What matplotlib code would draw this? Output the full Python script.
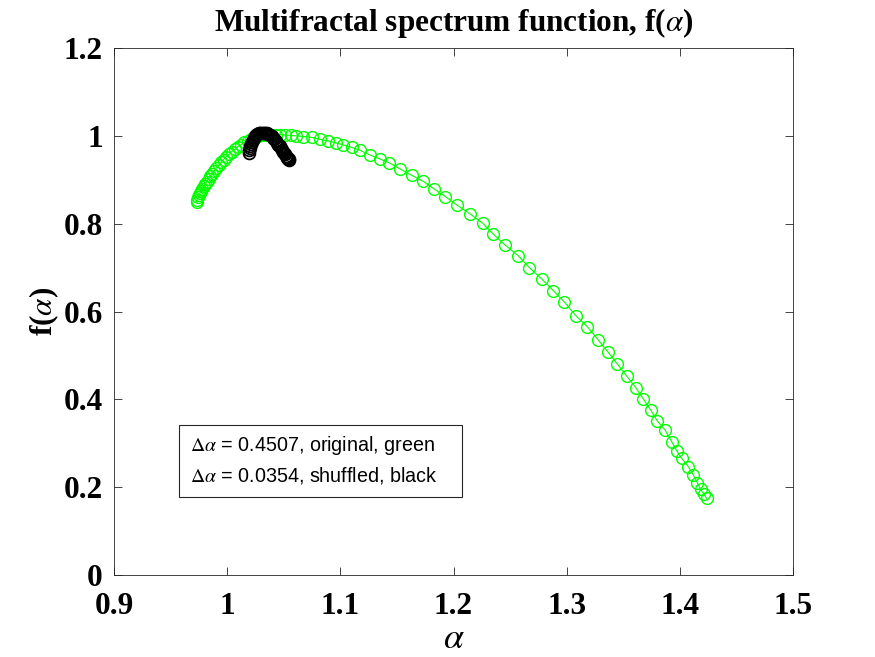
import matplotlib
matplotlib.use("Agg")
import matplotlib.pyplot as plt
from matplotlib.patches import Rectangle

# spectrum of the original series (green)
alpha_orig = [
    0.9730, 0.9736, 0.9743, 0.9751, 0.9760, 0.9770, 0.9781, 0.9793, 0.9806, 0.9820,
    0.9835, 0.9851, 0.9868, 0.9886, 0.9905, 0.9925, 0.9946, 0.9968, 0.9991, 1.0015,
    1.0040, 1.0066, 1.0093, 1.0121, 1.0150, 1.0180, 1.0211, 1.0243, 1.0276, 1.0310,
    1.0347, 1.0386, 1.0427, 1.0470, 1.0514, 1.0560, 1.0606, 1.0673, 1.0747, 1.0820,
    1.0894, 1.0959, 1.1026, 1.1100, 1.1174, 1.1259, 1.1347, 1.1433, 1.1527, 1.1631,
    1.1733, 1.1828, 1.1929, 1.2028, 1.2146, 1.2258, 1.2352, 1.2455, 1.2573, 1.2670,
    1.2779, 1.2882, 1.2980, 1.3080, 1.3182, 1.3279, 1.3362, 1.3447, 1.3530, 1.3610,
    1.3677, 1.3742, 1.3801, 1.3869, 1.3928, 1.3972, 1.4016, 1.4075, 1.4119, 1.4154,
    1.4184, 1.4213, 1.4237,
]
f_orig = [
    0.850, 0.855, 0.860, 0.865, 0.870, 0.875, 0.880, 0.885, 0.890, 0.896,
    0.902, 0.908, 0.914, 0.921, 0.927, 0.933, 0.940, 0.946, 0.952, 0.958,
    0.964, 0.969, 0.975, 0.980, 0.985, 0.989, 0.993, 0.996, 0.999, 1.001,
    1.002, 1.003, 1.003, 1.003, 1.002, 1.001, 1.000, 0.9985, 0.9966, 0.9920,
    0.9886, 0.9841, 0.9795, 0.9738, 0.9670, 0.9567, 0.9476, 0.9385, 0.9248, 0.9100,
    0.8964, 0.8793, 0.8617, 0.8428, 0.8223, 0.8011, 0.7761, 0.7517, 0.7267, 0.7000,
    0.6743, 0.6476, 0.6215, 0.5907, 0.5656, 0.5353, 0.5087, 0.4806, 0.4533, 0.4267,
    0.4009, 0.3759, 0.3508, 0.3303, 0.3036, 0.2831, 0.2658, 0.2467, 0.2278, 0.2103,
    0.1952, 0.1838, 0.1747,
]

# spectrum of the shuffled series (black)
alpha_shuf = [
    1.0192, 1.0195, 1.0199, 1.0204, 1.0210, 1.0217, 1.0225, 1.0234, 1.0244, 1.0255,
    1.0267, 1.0280, 1.0294, 1.0308, 1.0322, 1.0336, 1.0350, 1.0364, 1.0378, 1.0392,
    1.0405, 1.0418, 1.0430, 1.0442, 1.0453, 1.0464, 1.0474, 1.0484, 1.0493, 1.0502,
    1.0510, 1.0518, 1.0525, 1.0532, 1.0538, 1.0543, 1.0546,
]
f_shuf = [
    0.962, 0.967, 0.972, 0.977, 0.982, 0.987, 0.991, 0.995, 0.999, 1.002,
    1.004, 1.006, 1.007, 1.0075, 1.0075, 1.007, 1.006, 1.004, 1.002, 0.999,
    0.996, 0.992, 0.988, 0.984, 0.980, 0.976, 0.972, 0.968, 0.964, 0.961,
    0.958, 0.955, 0.952, 0.950, 0.948, 0.947, 0.946,
]

x_ticks = [0.9, 1.0, 1.1, 1.2, 1.3, 1.4, 1.5]
x_ticklabels = ["0.9", "1", "1.1", "1.2", "1.3", "1.4", "1.5"]
y_ticks = [0, 0.2, 0.4, 0.6, 0.8, 1.0, 1.2]
y_ticklabels = ["0", "0.2", "0.4", "0.6", "0.8", "1", "1.2"]

legend_lines = [r"$\Delta\alpha$ = 0.4507, original, green",
                r"$\Delta\alpha$ = 0.0354, shuffled, black"]

plt.rcParams["mathtext.fontset"] = "stix"
serif = "Liberation Serif"

fig = plt.figure(figsize=(8.75, 6.57), dpi=100)
ax = fig.add_axes([0.1303, 0.1248, 0.7760, 0.8021])

ax.plot(alpha_orig, f_orig, "o-", color=(0, 1, 0), mfc="none", mec=(0, 1, 0),
        markersize=8.5, markeredgewidth=1.0, linewidth=0.8)
ax.plot(alpha_shuf, f_shuf, "o-", color="k", mfc="none", mec="k",
        markersize=8.5, markeredgewidth=1.3, linewidth=0.8)

ax.set_xlim(0.9, 1.5)
ax.set_ylim(0, 1.2)
ax.set_xticks(x_ticks)
ax.set_xticklabels(x_ticklabels, fontfamily=serif, fontweight="bold", fontsize=22.5)
ax.set_yticks(y_ticks)
ax.set_yticklabels(y_ticklabels, fontfamily=serif, fontweight="bold", fontsize=22.5)
ax.tick_params(direction="in", top=True, right=True, length=6, width=0.6,
               color="#262626")
ax.tick_params(axis="x", pad=12)
ax.tick_params(axis="y", pad=8)
for sp in ax.spines.values():
    sp.set_color("#262626")
    sp.set_linewidth(0.6)

ax.set_title(r"Multifractal spectrum function, f($\alpha$)", fontfamily=serif,
             fontweight="bold", fontsize=22.5, pad=12)
ax.set_xlabel(r"$\alpha$", fontsize=26, labelpad=0)
ax.set_ylabel(r"f($\alpha$)", fontfamily=serif, fontweight="bold", fontsize=22.5,
              labelpad=2)

# text box in the lower left
ax.add_patch(Rectangle((0.0957, 0.148), 0.4168, 0.1366, transform=ax.transAxes,
                       facecolor="white", edgecolor="#262626", linewidth=0.8,
                       zorder=3))
for i, line in enumerate(legend_lines):
    ax.text(0.1119, 0.2467 - i * 0.0588, line, transform=ax.transAxes,
            fontfamily="Liberation Sans", fontsize=14.2, va="center", ha="left",
            zorder=4)

fig.savefig("out.png", dpi=100)
